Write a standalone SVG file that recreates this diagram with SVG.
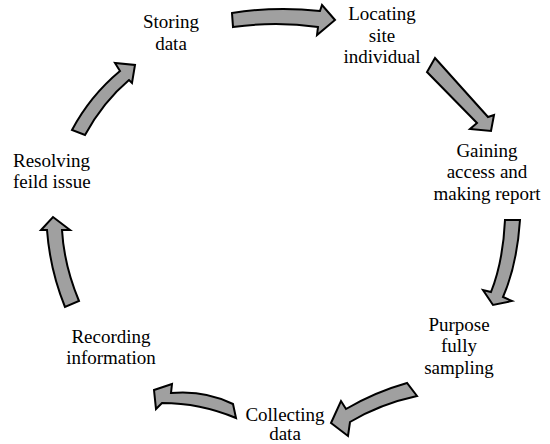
<svg xmlns="http://www.w3.org/2000/svg" width="550" height="444" viewBox="0 0 550 444">
<style>
text{font-family:'Liberation Serif','Times New Roman',Times,serif;font-size:19px;fill:#000;text-anchor:middle}
.arr{fill:#a0a0a0;stroke:#000;stroke-width:2;stroke-linejoin:miter}
</style>
<rect width="550" height="444" fill="#fff"/>
<g id="connectors">
<path class="arr" d="M232,13 Q276,6 320,11 L322,5 L335,20 L317,35 L318,27 Q276,21 233,27 Z"/>
<path class="arr" d="M435,58 L488,117 L494,115 L491,131 L470,129 L477,123 L427,72 Z"/>
<path class="arr" d="M505,220 L520,220 Q517,265 503,297 L512,301 L493,305 L483,290 L491,292 Q503,262 505,220 Z"/>
<path class="arr" d="M407,383 Q375,392 346,409 L341,401 L331,423 L348,436 L350,422 Q380,404 417,396 Z"/>
<path class="arr" d="M233,404 Q205,390 171,393 L172,384 L154,390 L156,409 L162,403 Q200,403 236,418 Z"/>
<path class="arr" d="M65,307 Q50,270 47,230 L41,230 L53,217 L70,230 L62,230 Q64,265 79,301 Z"/>
<path class="arr" d="M72,130 Q90,96 120,71 L115,63 L135,65 L132,83 L129,80 Q103,102 85,135 Z"/>
</g>
<g font-family="Liberation Serif, serif">
<g id="storing"><text x="171" y="28">Storing</text><text x="171" y="50">data</text></g>
<g id="locating"><text x="382" y="20">Locating</text><text x="382" y="42">site</text><text x="382" y="63">individual</text></g>
<g id="gaining"><text x="487" y="157">Gaining</text><text x="487" y="178">access and</text><text x="487" y="200">making report</text></g>
<g id="purpose"><text x="459" y="331">Purpose</text><text x="459" y="352">fully</text><text x="459" y="374">sampling</text></g>
<g id="collecting"><text x="285" y="421">Collecting</text><text x="285" y="440">data</text></g>
<g id="recording"><text x="111" y="343">Recording</text><text x="111" y="364">information</text></g>
<g id="resolving"><text x="13" y="167" style="text-anchor:start">Resolving</text><text x="13" y="188" style="text-anchor:start">feild issue</text></g>
</g>
</svg>
